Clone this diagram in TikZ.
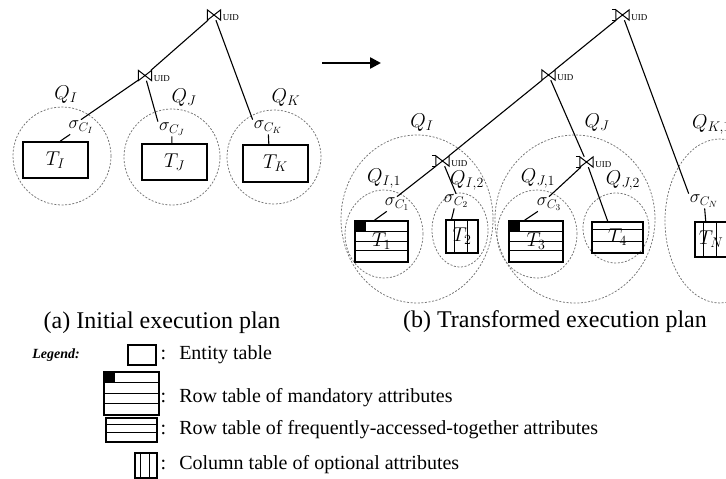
\RequirePackage{fix-cm}
\documentclass[tikz,border=0pt]{standalone}
\usepackage{fontspec}
\setmainfont{Liberation Serif}
\usetikzlibrary{positioning, arrows.meta, calc, shapes.geometric}
\newcommand{\ppb}{path picture bounding box}
\newcommand{\fs}[1]{\fontsize{#1}{#1}\selectfont}
\tikzset{
  tbl/.style     = {draw, line width=1.7pt, inner sep=0pt, font=\fs{20}},
  mandtab/.style = {tbl, path picture={
                      \fill (\ppb.north west) rectangle
                            ($(\ppb.north west)!0.25!(\ppb.south west)+(11,0)$);
                      \foreach \f in {0.25,0.49,0.73}
                        \draw[line width=1pt] ($(\ppb.north west)!\f!(\ppb.south west)$)
                          -- ($(\ppb.north east)!\f!(\ppb.south east)$);}},
  freqtab/.style = {tbl, path picture={
                      \foreach \f in {0.25,0.62}
                        \draw[line width=1pt] ($(\ppb.north west)!\f!(\ppb.south west)$)
                          -- ($(\ppb.north east)!\f!(\ppb.south east)$);}},
  coltab/.style  = {tbl, path picture={
                      \foreach \f in {0.27,0.68}
                        \draw[line width=1pt] ($(\ppb.north west)!\f!(\ppb.north east)$)
                          -- ($(\ppb.south west)!\f!(\ppb.south east)$);}},
  grp/.style     = {draw=black!55, line width=0.75pt, dash pattern=on 2pt off 1.6pt,
                    inner sep=0pt},
  jn/.style      = {minimum width=13, minimum height=10, inner sep=0pt,
                    label={[uid]east:UID}},
  uid/.style     = {font=\fs{9}, inner sep=2pt, yshift=-3pt},
  jl/.style      = {line width=1pt},
  conn/.style    = {line width=1.1pt},
  ql/.style      = {font=\fs{20}, inner sep=0pt},
  sg/.style      = {font=\fs{18}, inner sep=1pt},
  captxt/.style  = {font=\fs{24}},
  leg/.style     = {font=\fs{20}, anchor=west, inner sep=0pt},
}

\begin{document}
\begin{tikzpicture}[x=1pt, y=-1pt]
  \useasboundingbox (0,0) rectangle (726,479);
  \clip (0,0) rectangle (726,479);

  \node[grp, circle, minimum size=98] (gI) at (62,156) {};
  \node[grp, circle, minimum size=96] (gJ) at (172,157) {};
  \node[grp, circle, minimum size=94] (gK) at (274,157) {};
  \node[tbl, minimum width=65, minimum height=36] (TI) at (55.5,160) {$T_I$};
  \node[tbl, minimum width=65, minimum height=36] (TJ) at (174.5,162) {$T_J$};
  \node[tbl, minimum width=65, minimum height=37] (TK) at (275.5,163.5) {$T_K$};
  \node[jn] (jTopA) at (214,15) {};
  \node[jn] (jMidA) at (145,75.5) {};
  \node[ql] (QI) at (66,95) {$Q_I$};
  \node[ql] (QJ) at (184,98) {$Q_J$};
  \node[ql] (QK) at (286,98) {$Q_K$};
  \node[sg] (sI) at (81,127) {$\sigma_{C_I}$};
  \node[sg] (sJ) at (172,129) {$\sigma_{C_J}$};
  \node[sg] (sK) at (268,127) {$\sigma_{C_K}$};

  \draw[conn] (jTopA) -- (jMidA);
  \draw[conn] (jTopA) -- (sK.north west);
  \draw[conn] (jMidA) -- (sI.north);
  \draw[conn] (jMidA) -- (sJ.north west);
  \draw[conn] (sI) -- (TI.76);
  \draw[conn] (sJ) -- (TJ.98);
  \draw[conn] (sK) -- (TK.109);

  \coordinate (arS) at (322,63);
  \coordinate (arE) at (381,63);
  \draw[line width=2.5pt, -{Triangle[length=11pt, width=11pt]}] (arS) -- (arE);

  \node[grp, ellipse, minimum width=152, minimum height=168] (eI) at (417,219) {};
  \node[grp, ellipse, minimum width=160, minimum height=168] (eJ) at (575,219) {};
  \node[grp, ellipse, minimum width=110, minimum height=164] (eK1) at (720,221) {};
  \node[grp, ellipse, minimum width=78, minimum height=88] (eI1) at (384,234) {};
  \node[grp, ellipse, minimum width=56, minimum height=74] (eI2) at (460,230) {};
  \node[grp, ellipse, minimum width=80, minimum height=88] (eJ1) at (537,234) {};
  \node[grp, ellipse, minimum width=66, minimum height=70] (eJ2) at (616,228) {};
  \node[mandtab, minimum width=53, minimum height=41] (T1) at (381.5,241.5) {$T_1$};
  \node[coltab, minimum width=32, minimum height=33] (T2) at (462,236.5) {$T_2$};
  \node[mandtab, minimum width=54, minimum height=41] (T3) at (536,241.5) {$T_3$};
  \node[freqtab, minimum width=51, minimum height=31] (T4) at (617.5,237.5) {$T_4$};
  \node[coltab, minimum width=32, minimum height=35] (TN) at (711,239.5) {$T_N$};
  \node[jn] (jTopB) at (622.5,15) {};
  \node[jn] (jMidB) at (548.5,75) {};
  \node[jn] (jI) at (442.5,161) {};
  \node[jn] (jJ) at (586.5,162) {};
  \node[ql] (QIb) at (422,123) {$Q_I$};
  \node[ql] (QJb) at (597,123) {$Q_J$};
  \node[ql, anchor=west] (QK1) at (692,125) {$Q_{K,1}$};
  \node[ql] (QI1) at (384,179) {$Q_{I,1}$};
  \node[ql] (QI2) at (467,181) {$Q_{I,2}$};
  \node[ql] (QJ1) at (538,179) {$Q_{J,1}$};
  \node[ql] (QJ2) at (623,181) {$Q_{J,2}$};
  \node[sg] (s1) at (397,204) {$\sigma_{C_1}$};
  \node[sg] (s2) at (456,201) {$\sigma_{C_2}$};
  \node[sg] (s3) at (549,204) {$\sigma_{C_3}$};
  \node[sg] (sN) at (704,201) {$\sigma_{C_N}$};

  \draw[conn] (jTopB) -- (jMidB);
  \draw[conn] (jTopB) -- (sN.north west);
  \draw[conn] (jMidB) -- (jI);
  \draw[conn] (jMidB) -- (jJ);
  \draw[conn] (jI) -- (s1.north);
  \draw[conn] (jI) -- (s2.north);
  \draw[conn] (jJ) -- (s3.north);
  \draw[conn] (jJ) -- (T4.121);
  \draw[conn] (s1) -- (T1.108);
  \draw[conn] (s2) -- (T2.121);
  \draw[conn] (s3) -- (T3.118);
  \draw[conn] (sN) -- (TN.106);

  \foreach \j in {jTopA,jMidA,jTopB,jMidB,jI,jJ}
    \draw[jl] (\j.north west) -- (\j.south west) -- (\j.north east) -- (\j.south east) -- cycle;
  \foreach \j in {jTopB,jI,jJ}
    \draw[jl] ($(\j.north west)+(-4,0)$) -- (\j.north west)
              ($(\j.south west)+(-4,0)$) -- (\j.south west);

  \node[captxt] (capA) at (162,323) {(a) Initial execution plan};
  \node[captxt] (capB) at (555,322) {(b) Transformed execution plan};

  \node[font=\fs{14}\bfseries\itshape] (lgd) at (56,355) {Legend:};
  \node[tbl, line width=1.4pt, minimum width=28, minimum height=20] (lE) at (142,355) {};
  \node[mandtab, line width=1.4pt, minimum width=55, minimum height=43] (lM) at (131.5,393.5) {};
  \node[freqtab, line width=1.4pt, minimum width=51, minimum height=24] (lF) at (131.5,430) {};
  \node[coltab, line width=1.4pt, minimum width=22, minimum height=25] (lC) at (146,465.5) {};
  \node[leg] (tE) at (160.5,355) {:\hspace{13pt}Entity table};
  \node[leg] (tM) at (160.5,398) {:\hspace{13pt}Row table of mandatory attributes};
  \node[leg] (tF) at (160.5,430) {:\hspace{13pt}Row table of frequently-accessed-together attributes};
  \node[leg] (tC) at (160.5,465) {:\hspace{13pt}Column table of optional attributes};
\end{tikzpicture}
\end{document}
